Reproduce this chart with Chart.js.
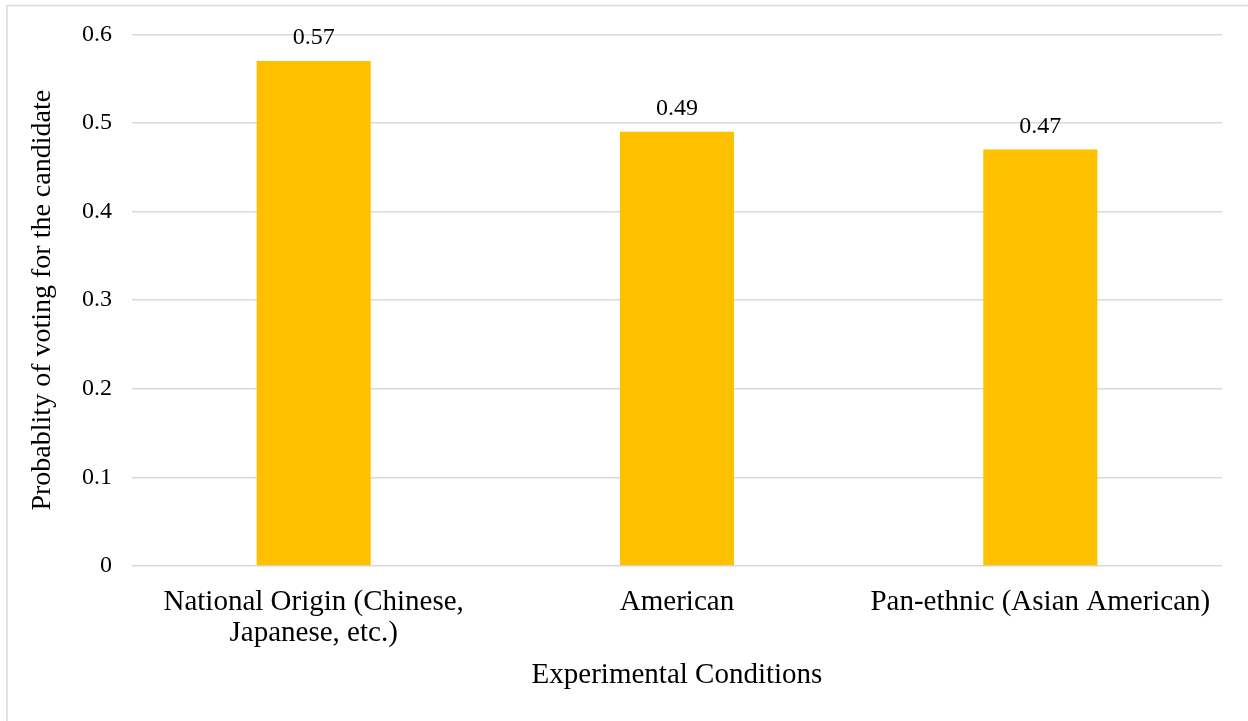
<!DOCTYPE html>
<html>
<head>
<meta charset="utf-8">
<title>Probablity of voting for the candidate</title>
<script src="https://cdn.jsdelivr.net/npm/chart.js@4/dist/chart.umd.min.js"></script>
<style>
  html, body { margin: 0; padding: 0; background: #fff; }
  canvas { display: block; }
</style>
</head>
<body>
<canvas id="myChart" width="1248" height="721"></canvas>
<script>
const conditions = [
  ['National Origin (Chinese,', 'Japanese, etc.)'],
  'American',
  'Pan-ethnic (Asian American)'
];
const probabilities = [0.57, 0.49, 0.47];
const yTicks = [0, 0.1, 0.2, 0.3, 0.4, 0.5, 0.6];

const serif = 'Liberation Serif, Times New Roman, serif';
const gridGray = '#d9d9d9';

// light frame round the chart, open on the right and bottom
const frame = {
  id: 'frame',
  beforeDraw(chart) {
    const ctx = chart.ctx;
    ctx.save();
    ctx.strokeStyle = gridGray;
    ctx.lineWidth = 1.5;
    ctx.beginPath();
    ctx.moveTo(7, chart.height + 2);
    ctx.lineTo(7, 5.5);
    ctx.lineTo(chart.width + 2, 5.5);
    ctx.stroke();
    ctx.restore();
  }
};

// value written above each bar
const valueLabels = {
  id: 'valueLabels',
  afterDatasetsDraw(chart) {
    const ctx = chart.ctx;
    const meta = chart.getDatasetMeta(0);
    ctx.save();
    ctx.font = '24px ' + serif;
    ctx.fillStyle = '#000';
    ctx.textAlign = 'center';
    ctx.textBaseline = 'alphabetic';
    meta.data.forEach((bar, i) => {
      ctx.fillText(probabilities[i].toFixed(2), bar.x, bar.y - 17);
    });
    ctx.restore();
  }
};

const ctx = document.getElementById('myChart').getContext('2d');
const chart = new Chart(ctx, {
  type: 'bar',
  data: {
    labels: conditions,
    datasets: [{
      data: probabilities,
      backgroundColor: '#FFC000',
      borderWidth: 0,
      barPercentage: 0.314,
      categoryPercentage: 1
    }]
  },
  options: {
    responsive: false,
    animation: false,
    layout: { padding: { top: 34, right: 26, left: 0, bottom: 0 } },
    plugins: {
      legend: { display: false },
      tooltip: { enabled: false }
    },
    scales: {
      x: {
        grid: { display: false, drawTicks: false },
        border: { display: false },
        ticks: {
          color: '#000',
          padding: 20,
          maxRotation: 0,
          autoSkip: false,
          font: { family: serif, size: 29, lineHeight: 1.1 }
        },
        title: {
          display: true,
          text: 'Experimental Conditions',
          color: '#000',
          font: { family: serif, size: 29, lineHeight: 1.1 },
          padding: { top: 0, bottom: 30 }
        },
        afterFit(scale) { scale.height = 155; }
      },
      y: {
        min: 0,
        max: 0.6,
        afterBuildTicks(scale) {
          scale.ticks = yTicks.map(v => ({ value: v }));
        },
        grid: { color: gridGray, lineWidth: 1.5, drawTicks: false },
        border: { display: false },
        ticks: {
          color: '#000',
          padding: 20,
          font: { family: serif, size: 24 }
        },
        title: {
          display: true,
          text: 'Probablity of voting for the candidate',
          color: '#000',
          font: { family: serif, size: 28, lineHeight: 1.15 },
          padding: { top: 27, bottom: 0 }
        },
        afterFit(scale) { scale.width = 132; }
      }
    }
  },
  plugins: [frame, valueLabels]
});
</script>
</body>
</html>
